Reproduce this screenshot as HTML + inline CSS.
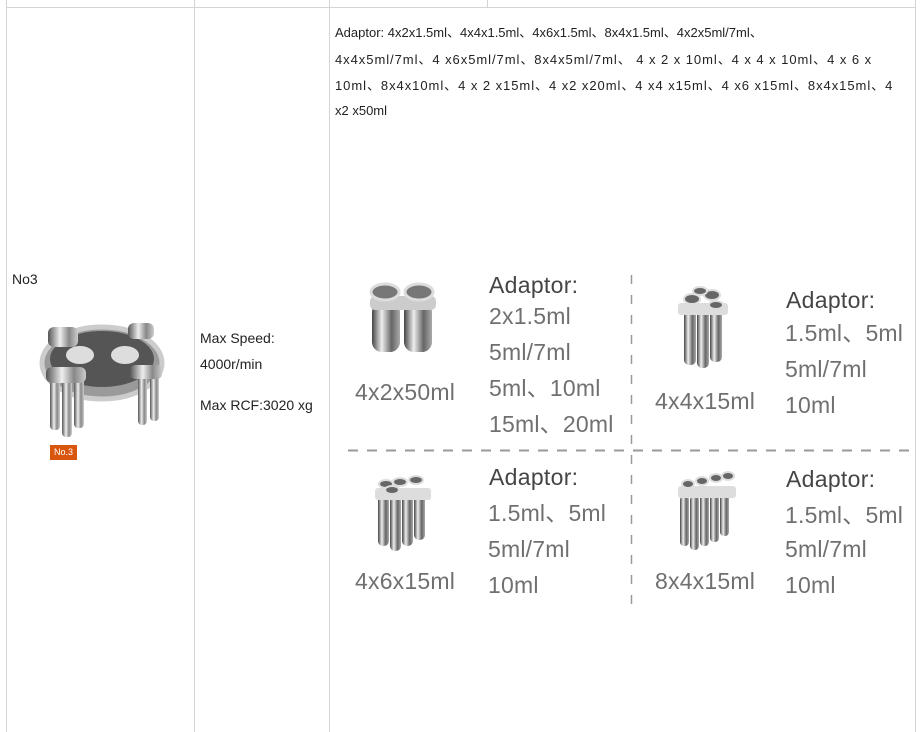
<!DOCTYPE html>
<html><head><meta charset="utf-8"><style>
*{margin:0;padding:0;box-sizing:border-box}
body{width:920px;height:732px;background:#fff;position:relative;overflow:hidden;font-family:"Liberation Sans","Noto Sans CJK SC",sans-serif}
.l{position:absolute;background:#d4d4d4}
.t{position:absolute;white-space:nowrap;font-size:13px;color:#222;line-height:16px}
.s{font-size:14px}
.b{position:absolute;white-space:nowrap;font-size:23px;color:#707070;line-height:26px;letter-spacing:0.2px}
.h{color:#454545;letter-spacing:0.3px}
svg{position:absolute}
</style></head><body>
<div class="l" style="left:6px;top:0;width:1px;height:732px"></div>
<div class="l" style="left:194px;top:0;width:1px;height:732px"></div>
<div class="l" style="left:329px;top:0;width:1px;height:732px"></div>
<div class="l" style="left:487px;top:0;width:1px;height:7px"></div>
<div class="l" style="left:915px;top:0;width:1px;height:732px"></div>
<div class="l" style="left:6px;top:7px;width:910px;height:1px"></div>

<div class="t" style="left:335px;top:25px">Adaptor: 4x2x1.5ml、4x4x1.5ml、4x6x1.5ml、8x4x1.5ml、4x2x5ml/7ml、</div>
<div class="t" style="left:335px;top:52px;letter-spacing:0.95px">4x4x5ml/7ml、4 x6x5ml/7ml、8x4x5ml/7ml、 4 x 2 x 10ml、4 x 4 x 10ml、4 x 6 x</div>
<div class="t" style="left:335px;top:78px;letter-spacing:0.95px">10ml、8x4x10ml、4 x 2 x15ml、4 x2 x20ml、4 x4 x15ml、4 x6 x15ml、8x4x15ml、4</div>
<div class="t" style="left:335px;top:103px">x2 x50ml</div>

<div class="t s" style="left:12px;top:271px">No3</div>
<div class="t s" style="left:200px;top:330px">Max Speed:</div>
<div class="t s" style="left:200px;top:356px">4000r/min</div>
<div class="t s" style="left:200px;top:397px">Max RCF:3020 xg</div>
<div style="position:absolute;left:50px;top:445px;width:27px;height:15px;background:#d9560f;color:#fff;font-size:9px;line-height:15px;text-align:center">No.3</div>

<!-- rotor -->
<svg style="left:30px;top:315px" width="140" height="130" viewBox="0 0 140 130">
<defs><linearGradient id="m" x1="0" x2="1"><stop offset="0" stop-color="#555"/><stop offset=".4" stop-color="#eee"/><stop offset=".7" stop-color="#888"/><stop offset="1" stop-color="#ccc"/></linearGradient></defs>
<ellipse cx="72" cy="48" rx="60" ry="36" fill="#9a9a9a" stroke="#ccc" stroke-width="5"/>
<ellipse cx="72" cy="44" rx="52" ry="28" fill="#555"/>
<ellipse cx="50" cy="40" rx="14" ry="9" fill="#ddd"/><ellipse cx="95" cy="40" rx="14" ry="9" fill="#ddd"/>
<g fill="url(#m)">
<rect x="20" y="60" width="10" height="55" rx="4"/><rect x="32" y="62" width="10" height="60" rx="4"/><rect x="44" y="58" width="10" height="55" rx="4"/>
<rect x="108" y="60" width="9" height="50" rx="4"/><rect x="120" y="58" width="9" height="48" rx="4"/>
<rect x="18" y="12" width="30" height="20" rx="6"/><rect x="98" y="8" width="26" height="16" rx="6"/>
<rect x="100" y="50" width="32" height="14" rx="5"/><rect x="16" y="52" width="40" height="16" rx="6"/>
</g>
</svg>

<!-- dashes -->
<svg style="left:348px;top:449px" width="567" height="3"><line x1="0" y1="1.5" x2="567" y2="1.5" stroke="#9a9a9a" stroke-width="2" stroke-dasharray="10 9"/></svg>
<svg style="left:630px;top:275px" width="3" height="338"><line x1="1.5" y1="0" x2="1.5" y2="338" stroke="#9a9a9a" stroke-width="1.5" stroke-dasharray="9 11"/></svg>

<!-- tube images -->
<svg style="left:368px;top:280px" width="80" height="75"><defs><linearGradient id="g" x1="0" x2="1"><stop offset="0" stop-color="#444"/><stop offset=".35" stop-color="#eee"/><stop offset=".7" stop-color="#666"/><stop offset="1" stop-color="#aaa"/></linearGradient></defs>
<rect x="4" y="22" width="28" height="50" rx="10" fill="url(#g)"/><rect x="36" y="22" width="28" height="50" rx="10" fill="url(#g)"/>
<rect x="2" y="16" width="66" height="14" rx="5" fill="#ccc"/><ellipse cx="17" cy="12" rx="14" ry="8" fill="#777" stroke="#ddd" stroke-width="3"/><ellipse cx="51" cy="12" rx="14" ry="8" fill="#777" stroke="#ddd" stroke-width="3"/></svg>
<svg style="left:674px;top:285px" width="60" height="85"><rect x="10" y="25" width="12" height="55" rx="5" fill="url(#g)"/><rect x="23" y="25" width="12" height="58" rx="5" fill="url(#g)"/><rect x="36" y="25" width="12" height="52" rx="5" fill="url(#g)"/><rect x="4" y="18" width="50" height="12" rx="3" fill="#ddd"/><ellipse cx="18" cy="14" rx="8" ry="5" fill="#666" stroke="#ddd" stroke-width="2"/><ellipse cx="38" cy="10" rx="8" ry="5" fill="#666" stroke="#ddd" stroke-width="2"/><ellipse cx="26" cy="6" rx="7" ry="4" fill="#666" stroke="#ddd" stroke-width="2"/><ellipse cx="42" cy="20" rx="7" ry="4" fill="#666" stroke="#ddd" stroke-width="2"/></svg>
<svg style="left:372px;top:474px" width="65" height="80"><rect x="6" y="20" width="11" height="52" rx="5" fill="url(#g)"/><rect x="18" y="22" width="11" height="55" rx="5" fill="url(#g)"/><rect x="30" y="20" width="11" height="52" rx="5" fill="url(#g)"/><rect x="42" y="18" width="11" height="48" rx="5" fill="url(#g)"/><rect x="3" y="14" width="56" height="12" rx="3" fill="#ddd"/><ellipse cx="14" cy="10" rx="7" ry="4" fill="#666" stroke="#ddd" stroke-width="2"/><ellipse cx="28" cy="8" rx="7" ry="4" fill="#666" stroke="#ddd" stroke-width="2"/><ellipse cx="44" cy="6" rx="7" ry="4" fill="#666" stroke="#ddd" stroke-width="2"/><ellipse cx="20" cy="16" rx="7" ry="4" fill="#666" stroke="#ddd" stroke-width="2"/></svg>
<svg style="left:676px;top:470px" width="66" height="85"><rect x="4" y="26" width="9" height="50" rx="4" fill="url(#g)"/><rect x="14" y="26" width="9" height="54" rx="4" fill="url(#g)"/><rect x="24" y="24" width="9" height="52" rx="4" fill="url(#g)"/><rect x="34" y="22" width="9" height="50" rx="4" fill="url(#g)"/><rect x="44" y="20" width="9" height="46" rx="4" fill="url(#g)"/><rect x="2" y="16" width="58" height="12" rx="3" fill="#ddd"/><ellipse cx="12" cy="14" rx="6" ry="4" fill="#666" stroke="#ddd" stroke-width="2"/><ellipse cx="26" cy="11" rx="6" ry="4" fill="#666" stroke="#ddd" stroke-width="2"/><ellipse cx="40" cy="8" rx="6" ry="4" fill="#666" stroke="#ddd" stroke-width="2"/><ellipse cx="52" cy="6" rx="6" ry="4" fill="#666" stroke="#ddd" stroke-width="2"/></svg>

<div class="b h" style="left:489px;top:272px">Adaptor:</div>
<div class="b" style="left:489px;top:303px">2x1.5ml</div>
<div class="b" style="left:489px;top:339px">5ml/7ml</div>
<div class="b" style="left:489px;top:375px">5ml、10ml</div>
<div class="b" style="left:489px;top:411px">15ml、20ml</div>
<div class="b" style="left:355px;top:379px">4x2x50ml</div>

<div class="b h" style="left:786px;top:287px">Adaptor:</div>
<div class="b" style="left:785px;top:320px">1.5ml、5ml</div>
<div class="b" style="left:785px;top:356px">5ml/7ml</div>
<div class="b" style="left:785px;top:392px">10ml</div>
<div class="b" style="left:655px;top:388px">4x4x15ml</div>

<div class="b h" style="left:489px;top:464px">Adaptor:</div>
<div class="b" style="left:488px;top:500px">1.5ml、5ml</div>
<div class="b" style="left:488px;top:536px">5ml/7ml</div>
<div class="b" style="left:488px;top:572px">10ml</div>
<div class="b" style="left:355px;top:568px">4x6x15ml</div>

<div class="b h" style="left:786px;top:466px">Adaptor:</div>
<div class="b" style="left:785px;top:502px">1.5ml、5ml</div>
<div class="b" style="left:785px;top:536px">5ml/7ml</div>
<div class="b" style="left:785px;top:572px">10ml</div>
<div class="b" style="left:655px;top:568px">8x4x15ml</div>
</body></html>
